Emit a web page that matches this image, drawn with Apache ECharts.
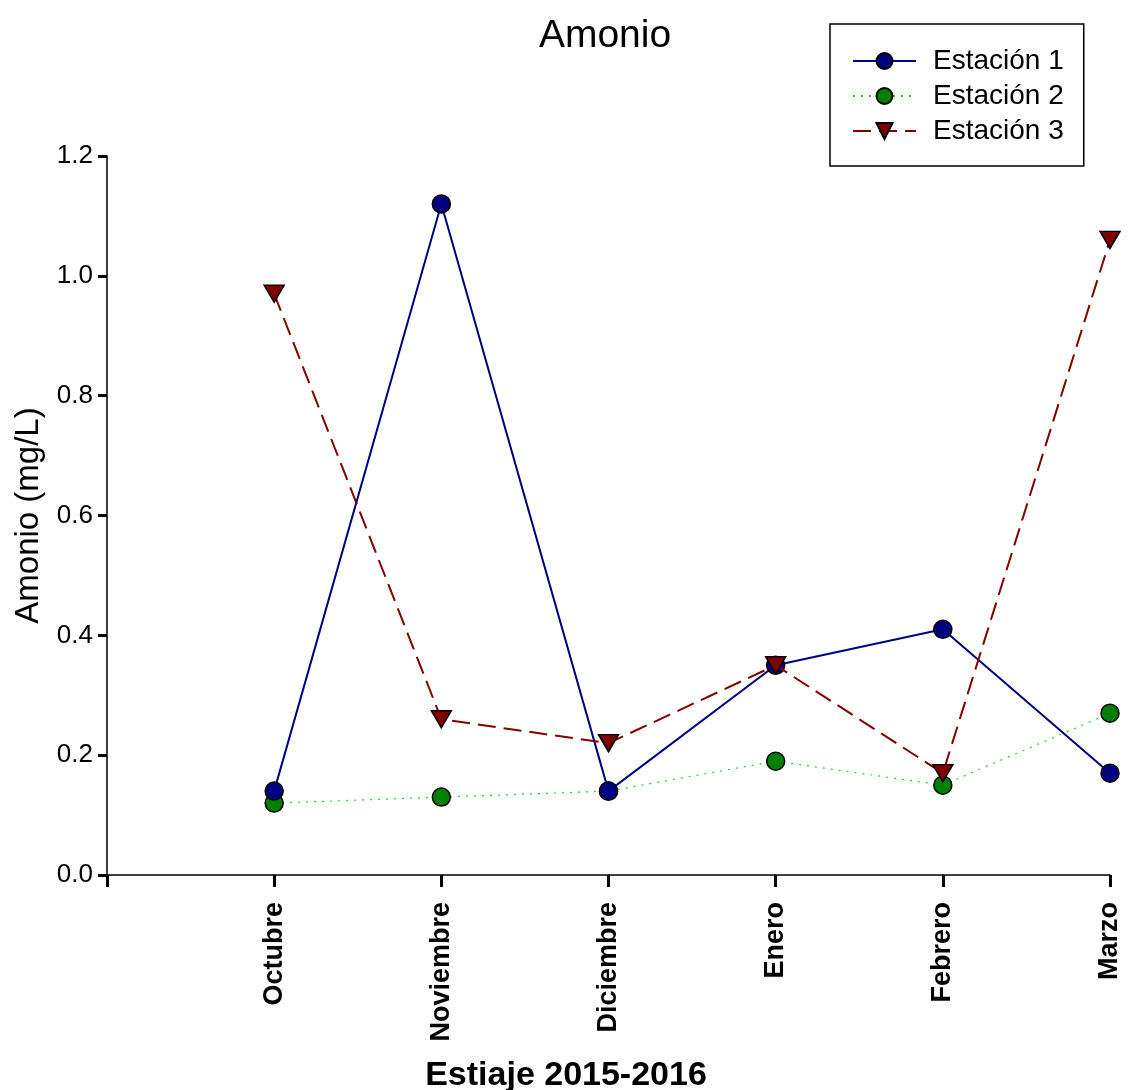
<!DOCTYPE html>
<html>
<head>
<meta charset="utf-8">
<script src="https://cdn.jsdelivr.net/npm/echarts@6/dist/echarts.min.js"></script>
<style>html,body{margin:0;padding:0;background:#fff}#c{width:1128px;height:1090px}</style>
</head>
<body>
<div id="c"></div>
<script>
const months = ['', 'Octubre', 'Noviembre', 'Diciembre', 'Enero', 'Febrero', 'Marzo'];
const estacion1 = [null, 0.14, 1.12, 0.14, 0.35, 0.41, 0.17];
const estacion2 = [null, 0.12, 0.13, 0.14, 0.19, 0.15, 0.27];
const estacion3 = [null, 0.97, 0.26, 0.22, 0.35, 0.17, 1.06];
const yTicks = [0, 0.2, 0.4, 0.6, 0.8, 1.0, 1.2];

const FONT = 'Liberation Sans, Arial, sans-serif';
const chart = echarts.init(document.getElementById('c'));
chart.setOption({
  animation: false,
  backgroundColor: '#fff',
  title: [
    { text: 'Amonio', left: 600, top: 12, textAlign: 'center',
      textStyle: { fontFamily: FONT, fontSize: 39, fontWeight: 'normal', color: '#000' } },
    { text: 'Estiaje 2015-2016', left: 561, top: 1054, textAlign: 'center',
      textStyle: { fontFamily: FONT, fontSize: 34, fontWeight: 'bold', color: '#000' } }
  ],
  legend: {
    left: 830, top: 24,
    orient: 'vertical',
    borderColor: '#000', borderWidth: 1.5,
    padding: [23, 20, 21, 22],
    itemGap: 7,
    itemWidth: 63, itemHeight: 20,
    textStyle: { fontFamily: FONT, fontSize: 28, color: '#000', padding: [0, 0, 0, 12] },
    data: ['Estación 1', 'Estación 2', 'Estación 3']
  },
  grid: { left: 107, right: 18, top: 156, bottom: 215, containLabel: false },
  xAxis: {
    type: 'category', data: months, boundaryGap: false,
    axisLine: { lineStyle: { color: '#000', width: 1.5 } },
    axisTick: { show: true, length: 12, lineStyle: { color: '#000', width: 3 } },
    axisLabel: { rotate: 90, margin: 27, fontFamily: FONT, fontSize: 27, fontWeight: 'bold', color: '#000', interval: 0 },
    splitLine: { show: false }
  },
  yAxis: {
    type: 'value', min: yTicks[0], max: yTicks[yTicks.length - 1], interval: 0.2,
    name: 'Amonio (mg/L)', nameLocation: 'middle', nameGap: 62,
    nameTextStyle: { fontFamily: FONT, fontSize: 33, color: '#000' },
    axisLine: { show: true, lineStyle: { color: '#000', width: 1.5 } },
    axisTick: { show: true, length: 9, lineStyle: { color: '#000', width: 3 } },
    axisLabel: { margin: 14, fontFamily: FONT, fontSize: 26, color: '#000', formatter: v => v.toFixed(1) },
    splitLine: { show: false }
  },
  series: [
    { name: 'Estación 1', type: 'line', data: estacion1,
      symbol: 'circle', symbolSize: 18, showAllSymbol: true,
      lineStyle: { color: '#000080', width: 2 },
      itemStyle: { color: '#000080', borderColor: '#000', borderWidth: 1.5 }, z: 3 },
    { name: 'Estación 2', type: 'line', data: estacion2,
      symbol: 'circle', symbolSize: 18, showAllSymbol: true,
      lineStyle: { color: '#33cc33', width: 1.2, type: [2, 6] },
      itemStyle: { color: '#008000', borderColor: '#000', borderWidth: 1.5 }, z: 2 },
    { name: 'Estación 3', type: 'line', data: estacion3,
      symbol: 'triangle', symbolRotate: 180, symbolSize: [20, 17], showAllSymbol: true,
      lineStyle: { color: '#800000', width: 2, type: [18, 8] },
      itemStyle: { color: '#800000', borderColor: '#000', borderWidth: 1.5 }, z: 4 }
  ]
});
</script>
</body>
</html>
